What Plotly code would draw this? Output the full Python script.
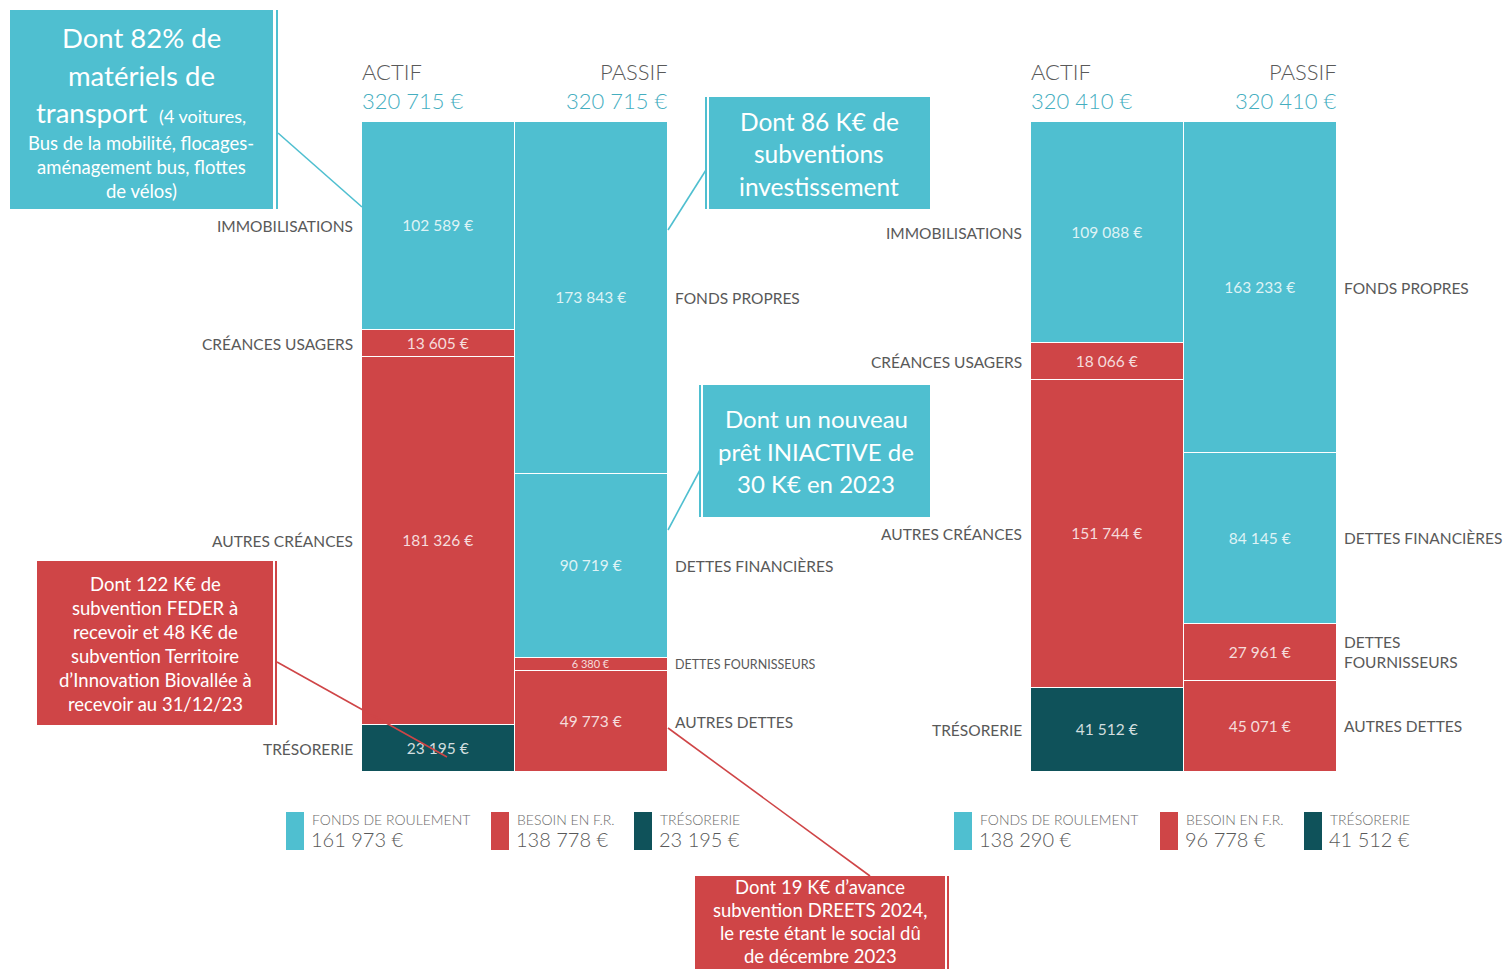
import plotly.graph_objects as go

# ---------------- DATA ----------------
columns = ["ACTIF", "PASSIF"]

actif_labels = ["IMMOBILISATIONS", "CRÉANCES USAGERS", "AUTRES CRÉANCES", "TRÉSORERIE"]
passif_labels_left = ["FONDS PROPRES", "DETTES FINANCIÈRES", "DETTES FOURNISSEURS", "AUTRES DETTES"]
passif_labels_right = ["FONDS PROPRES", "DETTES FINANCIÈRES", "DETTES<br>FOURNISSEURS", "AUTRES DETTES"]

actif_left = [102589, 13605, 181326, 23195]
passif_left = [173843, 90719, 6380, 49773]
actif_right = [109088, 18066, 151744, 41512]
passif_right = [163233, 84145, 27961, 45071]

legend_names = ["FONDS DE ROULEMENT", "BESOIN EN F.R.", "TRÉSORERIE"]
legend_left = [161973, 138778, 23195]
legend_right = [138290, 96778, 41512]

# ---------------- STYLE ----------------
W, H = 1505, 969
TEAL = "#4FBFD0"
RED = "#CF4547"
DARK = "#0F525A"
GREY = "#595959"
HEAD_TEAL = "#45AEBF"
FONT = "Lato"

actif_colors = [TEAL, RED, RED, DARK]
passif_colors = [TEAL, TEAL, RED, RED]


def px(x):
    return x / W


def py(y):
    return 1 - y / H


def fmt(v):
    return f"{v:,}".replace(",", " ") + " €"


fig = go.Figure()

Y_DOM = [py(772), py(122)]


def add_chart(actif, passif, xa, ya, passif_labels, small_fourn, x_left, x_right):
    n = len(actif)
    for i in reversed(range(n)):
        sizes = [15.5, 15.5]
        if small_fourn and i == 2:
            sizes = [15.5, 11]
        fig.add_trace(go.Bar(
            x=columns, y=[actif[i], passif[i]],
            marker=dict(color=[actif_colors[i], passif_colors[i]],
                        line=dict(color="white", width=1.5)),
            text=[fmt(actif[i]), fmt(passif[i])],
            textposition="inside", insidetextanchor="middle", textangle=0,
            constraintext="none",
            textfont=dict(family=FONT, size=sizes, color="rgba(255,255,255,0.82)"),
            xaxis=xa, yaxis=ya, showlegend=False, hoverinfo="skip",
        ))
    yref = "y" if ya == "y" else "y2"
    tot_a = sum(actif)
    tot_p = sum(passif)
    # category labels, centred on each segment
    cum = 0
    for i, v in enumerate(actif):
        yc = tot_a - cum - v / 2
        cum += v
        fig.add_annotation(x=px(x_left - 7), y=yc, xref="paper", yref=yref,
                           text=actif_labels[i], showarrow=False, xanchor="right",
                           yanchor="middle", font=dict(family=FONT, size=15.5, color=GREY))
    cum = 0
    for i, v in enumerate(passif):
        yc = tot_p - cum - v / 2
        cum += v
        size = 15.5
        if small_fourn and i == 2:
            size = 12.5
        fig.add_annotation(x=px(x_right + 5), y=yc, xref="paper", yref=yref,
                           text=passif_labels[i], showarrow=False, xanchor="left", align="left",
                           yanchor="middle", font=dict(family=FONT, size=size, color=GREY))
    # headers
    hfont = dict(family=FONT, size=22, color=GREY, weight=300)
    vfont = dict(family=FONT, size=22, color=HEAD_TEAL, weight=300)
    fig.add_annotation(x=px(x_left - 2), y=py(72), xref="paper", yref="paper", text="ACTIF",
                       showarrow=False, xanchor="left", yanchor="middle", font=hfont)
    fig.add_annotation(x=px(x_left - 2), y=py(100), xref="paper", yref="paper", text=fmt(tot_a),
                       showarrow=False, xanchor="left", yanchor="middle", font=vfont)
    fig.add_annotation(x=px(x_right + 2), y=py(72), xref="paper", yref="paper", text="PASSIF",
                       showarrow=False, xanchor="right", yanchor="middle", font=hfont)
    fig.add_annotation(x=px(x_right + 2), y=py(100), xref="paper", yref="paper", text=fmt(tot_p),
                       showarrow=False, xanchor="right", yanchor="middle", font=vfont)
    return tot_a, tot_p


ta_l, tp_l = add_chart(actif_left, passif_left, "x", "y", passif_labels_left, True, 362, 668)
ta_r, tp_r = add_chart(actif_right, passif_right, "x2", "y2", passif_labels_right, False, 1031, 1337)


# ---------------- LEGENDS ----------------
def add_legend(values, rect_x, colors):
    for name, v, x0, c in zip(legend_names, values, rect_x, colors):
        fig.add_shape(type="rect", xref="paper", yref="paper",
                      x0=px(x0), x1=px(x0 + 18), y0=py(850), y1=py(812),
                      fillcolor=c, line=dict(width=0))
        fig.add_annotation(x=px(x0 + 24), y=py(819), xref="paper", yref="paper", text=name,
                           showarrow=False, xanchor="left", yanchor="middle",
                           font=dict(family=FONT, size=14, color="#6a6a6a", weight=300))
        fig.add_annotation(x=px(x0 + 23), y=py(839), xref="paper", yref="paper", text=fmt(v),
                           showarrow=False, xanchor="left", yanchor="middle",
                           font=dict(family=FONT, size=20, color=GREY, weight=300))


add_legend(legend_left, [286, 491, 634], [TEAL, RED, DARK])
add_legend(legend_right, [954, 1160, 1304], [TEAL, RED, DARK])


# ---------------- CALLOUTS ----------------
def box(x0, y0, x1, y1, color, edge_x):
    fig.add_shape(type="rect", xref="paper", yref="paper",
                  x0=px(x0), x1=px(x1), y0=py(y1), y1=py(y0),
                  fillcolor=color, line=dict(width=0), layer="above")
    fig.add_shape(type="line", xref="paper", yref="paper",
                  x0=px(edge_x), x1=px(edge_x), y0=py(y1), y1=py(y0),
                  line=dict(color=color, width=2), layer="above")


def line(x0, y0, x1, y1, color):
    fig.add_shape(type="line", xref="paper", yref="paper",
                  x0=px(x0), y0=py(y0), x1=px(x1), y1=py(y1),
                  line=dict(color=color, width=1.6), layer="above")


def text(x, y, t, size):
    fig.add_annotation(x=px(x), y=py(y), xref="paper", yref="paper", text=t,
                       showarrow=False, xanchor="center", yanchor="middle",
                       font=dict(family=FONT, size=size, color="white"))


# box 1
box(10, 10, 273, 209, TEAL, 277)
line(278, 133, 362, 207, TEAL)
text(141, 38, "Dont 82% de", 27.5)
text(141, 75, "matériels de", 27.5)
text(141, 113, "transport <span style='font-size:18px'> (4 voitures,</span>", 27.5)
text(141, 143, "Bus de la mobilité, flocages-", 18.5)
text(141, 167, "aménagement bus, flottes", 18.5)
text(141, 191, "de vélos)", 18.5)

# box 2
box(709, 97, 930, 209, TEAL, 706)
line(706, 170, 668, 230, TEAL)
text(819, 122, "Dont 86 K€ de", 24.5)
text(819, 154, "subventions", 24.5)
text(819, 186, "investissement", 24.5)

# box 3
box(703, 385, 930, 517, TEAL, 700)
line(700, 470, 668, 530, TEAL)
text(816, 419, "Dont un nouveau", 24)
text(816, 451, "prêt INIACTIVE de", 24)
text(816, 483, "30 K€ en 2023", 24)

# box 4
box(37, 561, 273, 725, RED, 276)
line(277, 662, 447, 757, RED)
for k, t in enumerate(["Dont 122 K€ de", "subvention FEDER à", "recevoir et 48 K€ de",
                       "subvention Territoire", "d’Innovation Biovallée à", "recevoir au 31/12/23"]):
    text(155, 584 + 24 * k, t, 18.5)

# box 5
box(695, 876, 945, 975, RED, 948)
line(668, 728, 870, 876, RED)
for k, t in enumerate(["Dont 19 K€ d’avance", "subvention DREETS 2024,",
                       "le reste étant le social dû", "de décembre 2023"]):
    text(820, 887 + 23 * k, t, 18.5)

# ---------------- LAYOUT ----------------
fig.update_layout(
    width=W, height=H, autosize=False,
    margin=dict(l=0, r=0, t=0, b=0),
    paper_bgcolor="white", plot_bgcolor="white",
    barmode="stack", bargap=0.0,
    xaxis=dict(domain=[px(362), px(668)], visible=False, fixedrange=True),
    yaxis=dict(domain=Y_DOM, range=[0, ta_l], visible=False, fixedrange=True),
    xaxis2=dict(domain=[px(1031), px(1337)], visible=False, anchor="y2", fixedrange=True),
    yaxis2=dict(domain=Y_DOM, range=[0, ta_r], visible=False, anchor="x2", fixedrange=True),
    font=dict(family=FONT),
)

fig.write_html("out.html", post_script="document.body.style.margin='0';",
               config={"displayModeBar": False})
